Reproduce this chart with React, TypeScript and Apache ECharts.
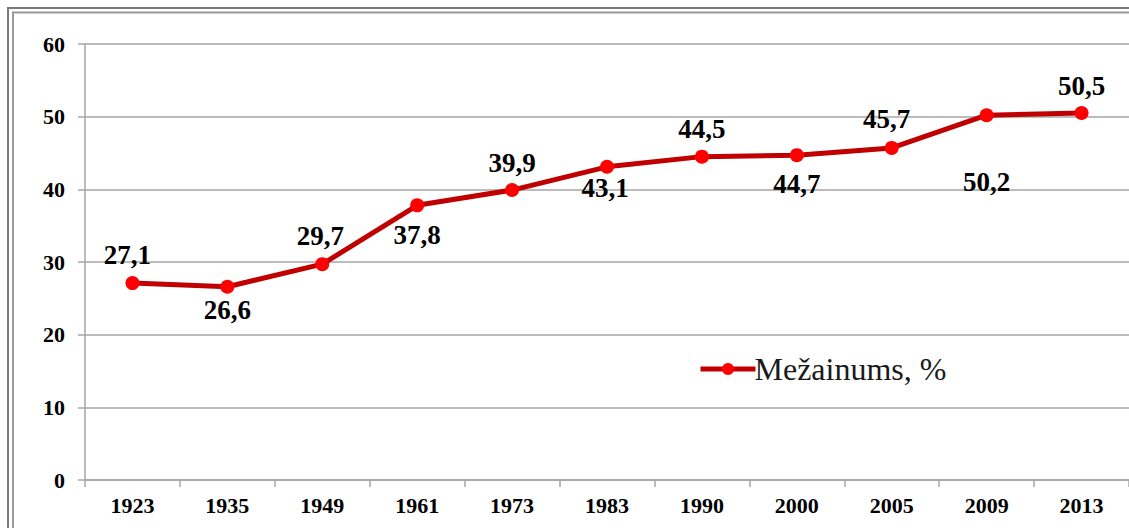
import React, { useEffect, useRef } from "react";
import * as echarts from "echarts";

const years = ["1923", "1935", "1949", "1961", "1973", "1983", "1990", "2000", "2005", "2009", "2013"];
const forestCover = [27.1, 26.6, 29.7, 37.8, 39.9, 43.1, 44.5, 44.7, 45.7, 50.2, 50.5];
const labelPositions = ["top", "bottom", "top", "bottom", "top", "bottom", "top", "bottom", "top", "bottom", "top"];
const labelDistances = [8, 3, 8, 9, 7, 1, 7, 8, 8, 46, 7];
const labelShiftX = [-5, 0, -2, 0, 0, -2, 0, 0, -5, 0, 0];
const yTicks = { min: 0, max: 60, interval: 10 };
const seriesName = "Mežainums, %";

const FONT = '"Liberation Serif", "Times New Roman", serif';

export default function App() {
  const ref = useRef<HTMLDivElement>(null);
  useEffect(() => {
    document.body.style.margin = "0";
    const chart = echarts.init(ref.current!, null, { renderer: "svg" });
    const data = forestCover.map((v, i) => ({
      value: v,
      label: {
        position: labelPositions[i],
        distance: labelDistances[i],
        offset: [labelShiftX[i], 0],
      },
    }));
    chart.setOption({
      animation: false,
      backgroundColor: "#ffffff",
      graphic: [
        {
          type: "rect",
          shape: { x: 8, y: 8, width: 1200, height: 600 },
          style: { fill: "none", stroke: "#7a7a7a", lineWidth: 2 },
          silent: true,
        },
        {
          type: "rect",
          shape: { x: 13, y: 12.5, width: 1200, height: 600 },
          style: { fill: "none", stroke: "#9a9a9a", lineWidth: 2 },
          silent: true,
        },
      ],
      grid: { left: 85, top: 44, bottom: 48, width: 1045, containLabel: false },
      legend: {
        show: true,
        left: 698,
        top: 353,
        padding: 0,
        itemWidth: 55,
        itemHeight: 15,
        itemGap: 4,
        lineStyle: { width: 5, color: "#c00000" },
        itemStyle: { color: "#ff0000" },
        textStyle: { fontFamily: FONT, fontSize: 32, color: "#1a1a1a", padding: [0, 0, 0, -6] },
        data: [seriesName],
      },
      xAxis: {
        type: "category",
        data: years,
        boundaryGap: true,
        axisLine: { show: true, lineStyle: { color: "#a6a6a6", width: 1.5 } },
        axisTick: { show: true, alignWithLabel: false, length: 7, lineStyle: { color: "#a6a6a6", width: 1.5 } },
        axisLabel: { fontFamily: FONT, fontSize: 22, fontWeight: "bold", color: "#000", margin: 14 },
        splitLine: { show: false },
      },
      yAxis: {
        type: "value",
        min: yTicks.min,
        max: yTicks.max,
        interval: yTicks.interval,
        axisLine: { show: true, lineStyle: { color: "#a6a6a6", width: 1.5 } },
        axisTick: { show: true, length: 7, lineStyle: { color: "#a6a6a6", width: 1.5 } },
        axisLabel: { fontFamily: FONT, fontSize: 22, fontWeight: "bold", color: "#000", margin: 20 },
        splitLine: { show: true, lineStyle: { color: "#a6a6a6", width: 1.5 } },
      },
      series: [
        {
          name: seriesName,
          type: "line",
          data,
          symbol: "circle",
          symbolSize: 14,
          itemStyle: { color: "#ff0000", borderWidth: 0 },
          lineStyle: { color: "#c00000", width: 5 },
          label: {
            show: true,
            fontFamily: FONT,
            fontSize: 27,
            fontWeight: "bold",
            color: "#000",
            formatter: (p: any) => String(p.value).replace(".", ","),
          },
        },
      ],
    });
    return () => chart.dispose();
  }, []);
  return <div ref={ref} style={{ width: 1129, height: 528 }} />;
}
